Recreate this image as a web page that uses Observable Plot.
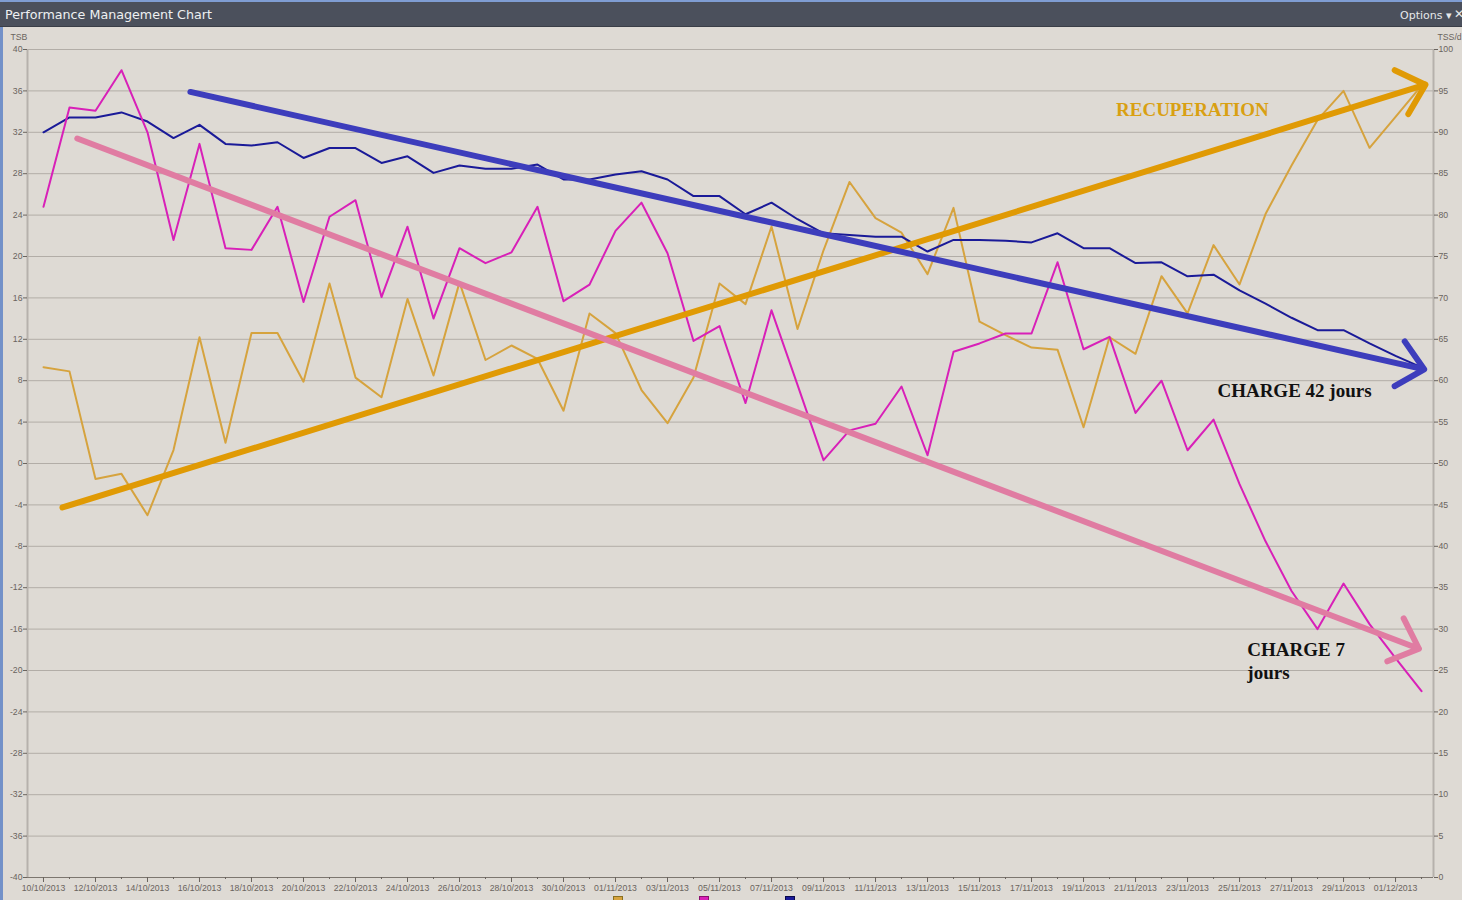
<!DOCTYPE html>
<html>
<head>
<meta charset="utf-8">
<script src="https://cdn.jsdelivr.net/npm/d3@7"></script>
<script src="https://cdn.jsdelivr.net/npm/@observablehq/plot@0.6"></script>
<style>
  html, body { margin: 0; padding: 0; background: #dedad4; }
  body { width: 1462px; height: 900px; overflow: hidden; position: relative; font-family: "DejaVu Sans", sans-serif; }
  #topstrip { height: 2px; background: #7f9dd3; }
  #titlebar { height: 24px; background: #4b505c; color: #eef0f2; font-size: 12.7px; line-height: 25px; padding-left: 5px; position: relative; border-bottom: 1px solid #3a3e47; box-sizing: content-box; }
  #opts { position: absolute; left: 1400px; top: 1px; font-size: 11px; color: #e6e8ea; }
  #close { position: absolute; left: 1454px; top: 0px; font-size: 12px; color: #e6e8ea; }
  #main { border-left: 3px solid #7391c8; height: 873px; position: relative; }
  #chart svg { display: block; }
  #legend { position: absolute; top: 869px; left: 610px; display: flex; gap: 76px; }
  #legend span { display: inline-block; width: 8px; height: 8px; border: 1px solid; }
</style>
</head>
<body>
<div id="topstrip"></div>
<div id="titlebar">Performance Management Chart<span id="opts">Options ▾</span><span id="close">✕</span></div>
<div id="main">
  <div id="chart"></div>
  <div id="legend"></div>
</div>
<script>
// ---- data (daily values) ----
const startDate = "2013-10-10";
// TSB (left axis)
const tsb = [9.3, 8.9, -1.5, -1.0, -5.0, 1.3, 12.2, 2.0, 12.6, 12.6, 7.9, 17.4, 8.3, 6.4, 15.9, 8.5, 17.5, 10.0,
             11.4, 10.1, 5.1, 14.5, 12.6, 7.1, 3.9, 8.3, 17.4, 15.4, 22.9, 13.0, 20.6, 27.2, 23.7, 22.3, 18.3, 24.7,
             13.7, 12.4, 11.2, 11.0, 3.5, 12.2, 10.6, 18.1, 14.5, 21.1, 17.3, 24.1, 28.8, 33.2, 36.0, 30.5, 33.5, 36.5];
// CTL – charge 42 jours (right axis, TSS/d)
const ctl = [90.0, 91.8, 91.8, 92.4, 91.3, 89.3, 90.9, 88.6, 88.4, 88.8, 86.9, 88.1, 88.1, 86.3, 87.1, 85.1, 86.0, 85.6,
             85.6, 86.1, 84.3, 84.3, 84.9, 85.3, 84.3, 82.3, 82.3, 80.1, 81.5, 79.5, 77.8, 77.6, 77.4, 77.4, 75.6, 77.0,
             77.0, 76.9, 76.7, 77.8, 76.0, 76.0, 74.2, 74.3, 72.6, 72.8, 70.9, 69.3, 67.6, 66.1, 66.1, 64.5, 63.0, 61.6];
// ATL – charge 7 jours (right axis, TSS/d)
const atl = [81.0, 93.0, 92.6, 97.5, 90.0, 77.0, 88.6, 76.0, 75.8, 81.0, 69.5, 79.8, 81.8, 70.1, 78.6, 67.5, 76.0, 74.2,
             75.5, 81.0, 69.6, 71.6, 78.1, 81.5, 75.4, 64.8, 66.6, 57.3, 68.5, 59.5, 50.4, 54.0, 54.8, 59.3, 51.0, 63.5,
             64.5, 65.7, 65.7, 74.3, 63.8, 65.3, 56.1, 60.0, 51.6, 55.3, 47.5, 40.6, 34.6, 30.0, 35.5, 30.6, 26.5, 22.5];

const leftTicks = [-40, -36, -32, -28, -24, -20, -16, -12, -8, -4, 0, 4, 8, 12, 16, 20, 24, 28, 32, 36, 40];
const rightTicks = [0, 5, 10, 15, 20, 25, 30, 35, 40, 45, 50, 55, 60, 65, 70, 75, 80, 85, 90, 95, 100];

const seriesNames = ["TSB", "ATL", "CTL"];
const seriesColors = ["#d6a33e", "#d820b8", "#1a1a98"];
const legendBorders = ["#8a7020", "#8a1070", "#08084a"];

// hand-drawn trend arrows (day offset from start, value on left axis)
const arrowNames = ["RECUPERATION", "CHARGE 42 jours", "CHARGE 7 jours"];
const arrowColors = ["#e09a04", "#3d3dbc", "#e07ca2"];
const arrowStartDay = [0.73, 5.65, 1.3];
const arrowStartValue = [-4.25, 35.9, 31.4];
const arrowEndDay = [53.15, 53.1, 52.9];
const arrowEndValue = [36.6, 9.1, -17.9];

// annotation texts
const noteText = ["RECUPERATION", "CHARGE 42 jours", "CHARGE 7\njours"];
const noteColors = ["#d9a012", "#111111", "#111111"];
const noteDay = [41.25, 45.15, 46.3];
const noteValue = [34.3, 7.15, -19.0];

// ---- build ----
const start = new Date(startDate);
const dayToDate = d => new Date(+start + d * 864e5);
const dates = tsb.map((_, i) => d3.utcDay.offset(start, i));
const rows = dates.map((date, i) => ({date, tsb: tsb[i], ctl: ctl[i], atl: atl[i]}));
const toLeft = v => v * 0.8 - 40; // TSS/d (0..100) -> TSB axis (-40..40)
const majorDates = dates.filter((d, i) => i % 2 === 0);
const xDomain = [dayToDate(-0.615), dayToDate(53.46)];

const arrows = arrowNames.map((name, i) => ({
  name, color: arrowColors[i],
  x1: dayToDate(arrowStartDay[i]), y1: arrowStartValue[i],
  x2: dayToDate(arrowEndDay[i]), y2: arrowEndValue[i]
}));
const notes = noteText.map((text, i) => ({text, color: noteColors[i], x: dayToDate(noteDay[i]), y: noteValue[i]}));

const fmt = d3.utcFormat("%d/%m/%Y");
const axisColor = "#6a645e";

const chart = Plot.plot({
  width: 1459,
  height: 866,
  marginLeft: 24,
  marginRight: 29,
  marginTop: 22,
  marginBottom: 16,
  style: {background: "#dedad4", fontFamily: "'Liberation Sans', Arial, sans-serif", fontSize: "8.7px", overflow: "visible"},
  x: {type: "utc", domain: xDomain},
  y: {domain: [-40, 40]},
  color: {type: "identity"},
  marks: [
    Plot.ruleY(leftTicks, {stroke: "#b2ada7", strokeWidth: 1}),
    Plot.ruleX(xDomain, {stroke: "#b6b1ac", strokeWidth: 2}),
    Plot.ruleY([-40], {stroke: "#7c766f", strokeWidth: 1}),
    Plot.axisY({ticks: leftTicks, anchor: "left", tickSize: 4, tickPadding: 1, label: null, color: axisColor, tickFormat: d => String(d)}),
    Plot.axisY({ticks: leftTicks, anchor: "right", tickSize: 4, tickPadding: 1, label: null, color: axisColor,
                tickFormat: d => String(rightTicks[leftTicks.indexOf(d)])}),
    Plot.axisX({ticks: dates, anchor: "bottom", tickSize: 2, label: null, color: axisColor, tickFormat: () => ""}),
    Plot.axisX({ticks: majorDates, anchor: "bottom", tickSize: 5, tickPadding: 2, label: null, color: axisColor, tickFormat: fmt}),
    Plot.text(["TSB"], {text: d => d, frameAnchor: "top-left", dx: -17, dy: -16, textAnchor: "start", fill: axisColor}),
    Plot.text(["TSS/d"], {text: d => d, frameAnchor: "top-right", dx: 4, dy: -16, textAnchor: "start", fill: axisColor}),
    Plot.line(rows, {x: "date", y: "tsb", stroke: seriesColors[0], strokeWidth: 2}),
    Plot.line(rows, {x: "date", y: d => toLeft(d.ctl), stroke: seriesColors[2], strokeWidth: 2}),
    Plot.line(rows, {x: "date", y: d => toLeft(d.atl), stroke: seriesColors[1], strokeWidth: 2}),
    Plot.arrow(arrows, {x1: "x1", y1: "y1", x2: "x2", y2: "y2", stroke: "color", strokeWidth: 6,
                        headAngle: 85, headLength: 8.5, strokeLinecap: "round", strokeLinejoin: "round"}),
    Plot.text(notes, {x: "x", y: "y", text: "text", fill: "color", textAnchor: "start", lineAnchor: "middle",
                      lineHeight: 1.2, fontFamily: "'Liberation Serif', 'Times New Roman', serif",
                      fontWeight: "bold", fontSize: 19})
  ]
});
document.getElementById("chart").append(chart);

const legend = document.getElementById("legend");
seriesNames.forEach((name, i) => {
  const s = document.createElement("span");
  s.style.background = seriesColors[i];
  s.style.borderColor = legendBorders[i];
  s.title = name;
  legend.append(s);
});
</script>
</body>
</html>
